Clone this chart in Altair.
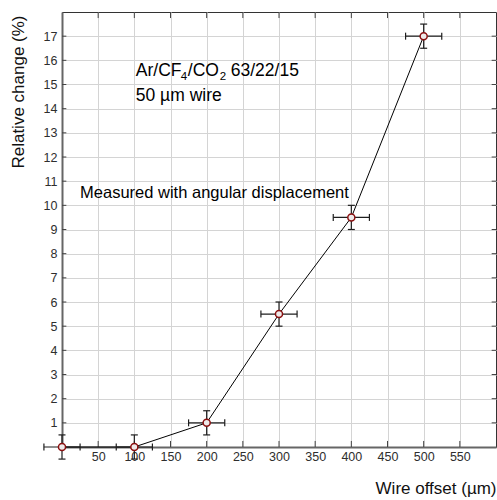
import altair as alt
import pandas as pd

# ---- data ----
offset = [0, 100, 200, 300, 400, 500]          # wire offset (um)
change = [0, 0, 1, 5.5, 9.5, 17]               # relative change (%)
x_err = [25, 25, 25, 25, 25, 25]
y_err = [0.5, 0.5, 0.5, 0.5, 0.5, 0.5]
x_ticks = [50, 100, 150, 200, 250, 300, 350, 400, 450, 500, 550]
y_ticks = list(range(1, 18))
x_domain = [0, 600]
y_domain = [0, 18]

FONT = "Liberation Sans"

df = pd.DataFrame({"x": offset, "y": change, "xe": x_err, "ye": y_err})
df["xlo"] = df["x"] - df["xe"]
df["xhi"] = df["x"] + df["xe"]
df["ylo"] = df["y"] - df["ye"]
df["yhi"] = df["y"] + df["ye"]

xs = alt.Scale(domain=x_domain, nice=False, zero=False)
ys = alt.Scale(domain=y_domain, nice=False, zero=False)

x_axis = alt.Axis(
    values=x_ticks, grid=True, gridColor="#d4d4d4", gridWidth=1,
    domainColor="#666666", domainWidth=2, ticks=False,
    labelFont=FONT, labelFontSize=12.5, labelColor="#2e2e2e", labelPadding=3,
    title="Wire offset (µm)", titleFont=FONT, titleFontSize=17,
    titleFontWeight="normal", titleColor="#111111",
    titleX=434, titleY=41, titleAlign="right", titleBaseline="middle",
)
y_axis = alt.Axis(
    values=y_ticks, grid=True, gridColor="#d4d4d4", gridWidth=1,
    domainColor="#666666", domainWidth=2, ticks=False,
    labelFont=FONT, labelFontSize=12.5, labelColor="#2e2e2e", labelPadding=5,
    title="Relative change (%)", titleFont=FONT, titleFontSize=17,
    titleFontWeight="normal", titleColor="#111111",
    titleAngle=270, titleX=-44, titleY=3, titleAlign="right",
    titleBaseline="middle",
)


def X(field):
    return alt.X(field, scale=xs, axis=x_axis)


def Y(field):
    return alt.Y(field, scale=ys, axis=y_axis)


base = alt.Chart(df)

# inward tick marks on all four sides
tx = pd.DataFrame({"t": x_ticks})
ty = pd.DataFrame({"t": y_ticks})
tick_col = "#444444"
bottom_ticks = alt.Chart(tx).transform_calculate(a="0", b="0.25").mark_rule(
    color=tick_col, strokeWidth=1).encode(
    x=X("t:Q"), y=Y("a:Q"), y2="b:Q")
top_ticks = alt.Chart(tx).transform_calculate(a="18", b="17.75").mark_rule(
    color=tick_col, strokeWidth=1).encode(
    x=X("t:Q"), y=Y("a:Q"), y2="b:Q")
left_ticks = alt.Chart(ty).transform_calculate(a="0", b="6").mark_rule(
    color=tick_col, strokeWidth=1).encode(
    y=Y("t:Q"), x=X("a:Q"), x2="b:Q")
right_ticks = alt.Chart(ty).transform_calculate(a="600", b="594").mark_rule(
    color=tick_col, strokeWidth=1).encode(
    y=Y("t:Q"), x=X("a:Q"), x2="b:Q")

line = base.mark_line(color="#000000", strokeWidth=1).encode(
    x=X("x:Q"), y=Y("y:Q"))

eb_col = "#1e1e1e"
v_bar = base.mark_rule(color=eb_col, strokeWidth=1.2).encode(
    x=X("x:Q"), y=Y("ylo:Q"), y2="yhi:Q")
h_bar = base.mark_rule(color=eb_col, strokeWidth=1.2).encode(
    y=Y("y:Q"), x=X("xlo:Q"), x2="xhi:Q")
cap_top = base.mark_tick(orient="horizontal", size=7, thickness=1.2,
                         color=eb_col, opacity=1).encode(
    x=X("x:Q"), y=Y("yhi:Q"))
cap_bot = base.mark_tick(orient="horizontal", size=7, thickness=1.2,
                         color=eb_col, opacity=1).encode(
    x=X("x:Q"), y=Y("ylo:Q"))
cap_left = base.mark_tick(orient="vertical", size=7, thickness=1.2,
                          color=eb_col, opacity=1).encode(
    x=X("xlo:Q"), y=Y("y:Q"))
cap_right = base.mark_tick(orient="vertical", size=7, thickness=1.2,
                           color=eb_col, opacity=1).encode(
    x=X("xhi:Q"), y=Y("y:Q"))

points = base.mark_point(shape="circle", size=50, filled=False,
                         fill="#eeeaea", fillOpacity=1, opacity=1,
                         stroke="#8b1010", strokeWidth=1.5).encode(
    x=X("x:Q"), y=Y("y:Q"))

# annotations (text pieces; subscripts as separate, smaller pieces)
ann_text = ["Ar/CF", "4", "/CO", "2", "63/22/15", "50 µm wire",
            "Measured with angular displacement"]
ann_x = [102, 102, 102, 102, 102, 102, 25]
ann_y = [15.35, 15.35, 15.35, 15.35, 15.35, 14.32, 10.29]
ann_dx = [0, 45, 52, 84, 95, 0, 0]
ann_dy = [0, 4, 0, 4, 0, 0, 0]
ann_size = [17.5, 11.5, 17.5, 11.5, 17.5, 17.5, 16.5]
ann = pd.DataFrame({"t": ann_text, "x": ann_x, "y": ann_y})

text_layers = []
for i in range(len(ann_text)):
    text_layers.append(
        alt.Chart(ann.iloc[[i]]).mark_text(
            align="left", baseline="alphabetic", font=FONT,
            fontSize=ann_size[i], dx=ann_dx[i], dy=ann_dy[i], color="#000000"
        ).encode(x=X("x:Q"), y=Y("y:Q"), text="t:N")
    )

chart = alt.layer(
    bottom_ticks, top_ticks, left_ticks, right_ticks,
    line, v_bar, h_bar, cap_top, cap_bot, cap_left, cap_right, points,
    *text_layers,
).properties(
    width=434, height=435,
    autosize=alt.AutoSizeParams(type="none"),
    padding={"left": 62, "top": 12, "right": 1, "bottom": 53},
    background="#ffffff",
).configure_view(
    stroke="#333333", strokeWidth=1,
)

chart.save("out.html", embed_options={"renderer": "svg", "actions": False})
